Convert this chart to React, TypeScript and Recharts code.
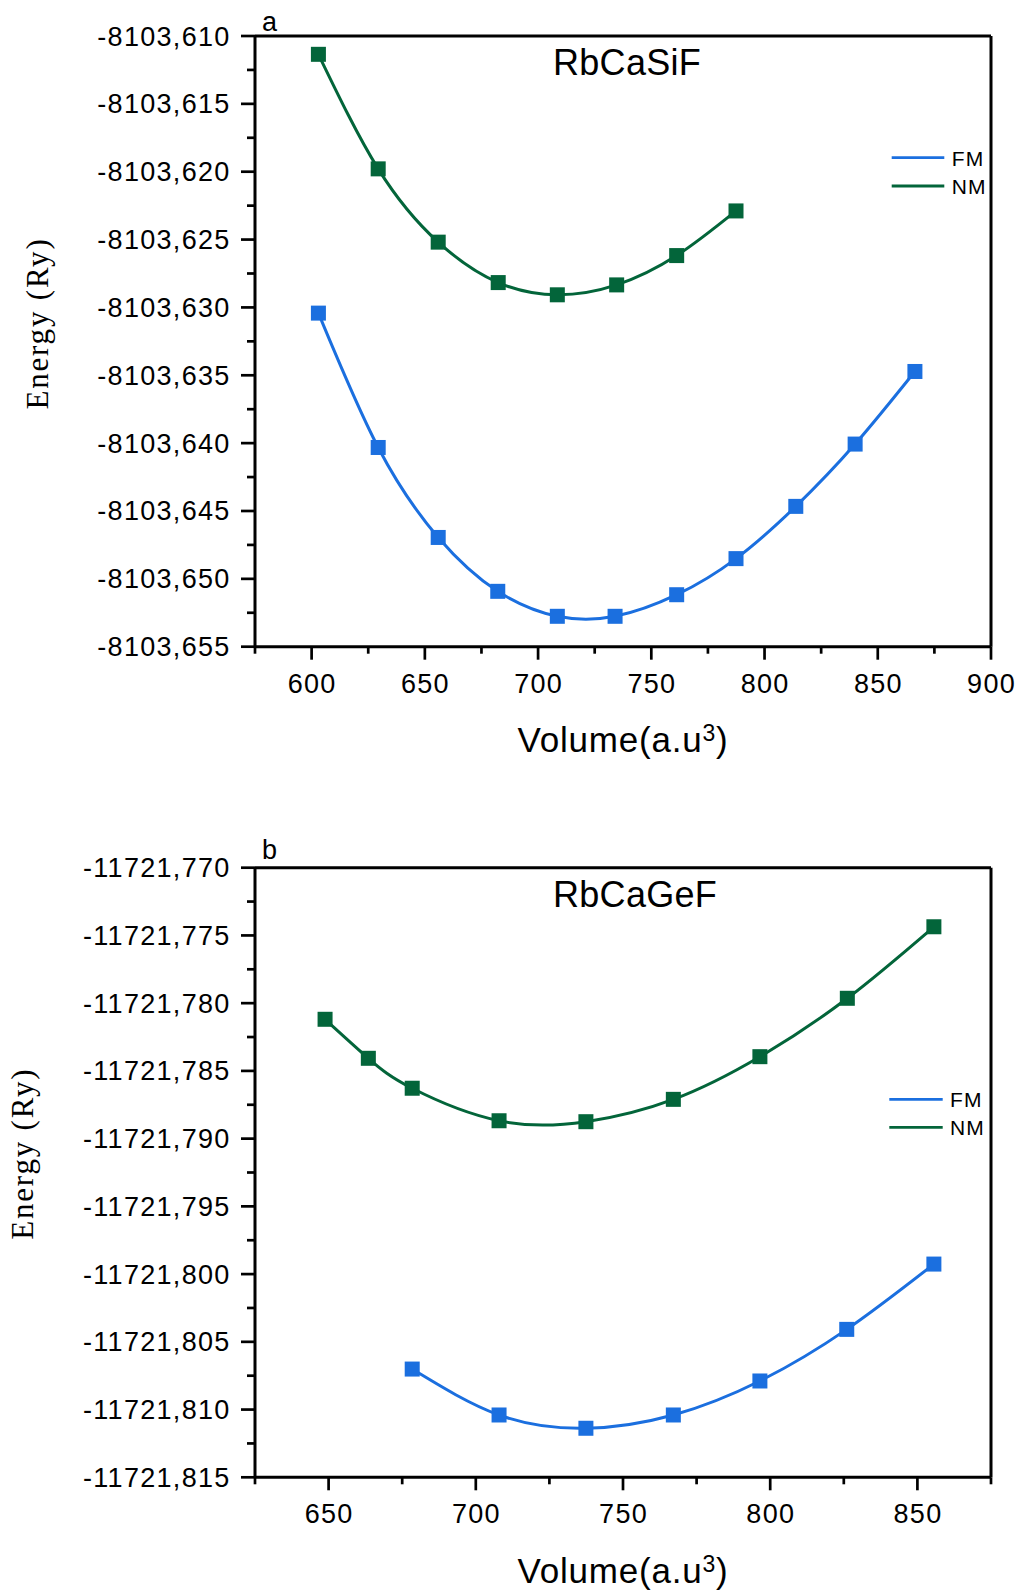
import React from 'react';
import { LineChart, Line, XAxis, YAxis, Legend, Label, ReferenceLine } from 'recharts';

const FONT = '"Liberation Sans", Arial, Helvetica, sans-serif';
const SERIF = '"Liberation Serif", "Times New Roman", Times, serif';
const BLUE = '#1B6FDF';
const GREEN = '#03653A';

// ---- Panel a: RbCaSiF ----
const volA_FM = [603.0, 629.4, 655.9, 682.2, 708.5, 734.0, 761.2, 787.4, 813.8, 840.0, 866.4];
const energyA_FM = [-8103.63042, -8103.64032, -8103.64695, -8103.65092, -8103.65276, -8103.65276, -8103.65117, -8103.64851, -8103.64466, -8103.64007, -8103.63472];
const volA_NM = [603.0, 629.4, 655.9, 682.4, 708.5, 734.7, 761.2, 787.4];
const energyA_NM = [-8103.61135, -8103.61979, -8103.62519, -8103.62817, -8103.62907, -8103.62834, -8103.62618, -8103.62289];

const xTicksA = [575, 600, 625, 650, 675, 700, 725, 750, 775, 800, 825, 850, 875, 900];
const xMajorA = [600, 650, 700, 750, 800, 850, 900];
const yTicksA = [-8103.655, -8103.6525, -8103.65, -8103.6475, -8103.645, -8103.6425, -8103.64, -8103.6375, -8103.635, -8103.6325, -8103.63, -8103.6275, -8103.625, -8103.6225, -8103.62, -8103.6175, -8103.615, -8103.6125, -8103.61];
const yMajorA = [-8103.655, -8103.65, -8103.645, -8103.64, -8103.635, -8103.63, -8103.625, -8103.62, -8103.615, -8103.61];

// ---- Panel b: RbCaGeF ----
const volB_FM = [678.4, 707.9, 737.4, 767.1, 796.5, 826.0, 855.6];
const energyB_FM = [-11721.80701, -11721.8104, -11721.81138, -11721.8104, -11721.80789, -11721.80408, -11721.79926];
const volB_NM = [648.8, 663.5, 678.4, 707.9, 737.4, 767.1, 796.5, 826.2, 855.6];
const energyB_NM = [-11721.78119, -11721.78407, -11721.78628, -11721.78868, -11721.78875, -11721.7871, -11721.78395, -11721.77964, -11721.77436];

const xTicksB = [625, 650, 675, 700, 725, 750, 775, 800, 825, 850, 875];
const xMajorB = [650, 700, 750, 800, 850];
const yTicksB = [-11721.815, -11721.8125, -11721.81, -11721.8075, -11721.805, -11721.8025, -11721.8, -11721.7975, -11721.795, -11721.7925, -11721.79, -11721.7875, -11721.785, -11721.7825, -11721.78, -11721.7775, -11721.775, -11721.7725, -11721.77];
const yMajorB = [-11721.815, -11721.81, -11721.805, -11721.8, -11721.795, -11721.79, -11721.785, -11721.78, -11721.775, -11721.77];

const zip = (xs: number[], ys: number[]) => xs.map((v, i) => ({ v, e: ys[i] }));
const fmt = (n: number) => n.toFixed(3).replace('.', ',');

const sans = (size: number, spacing = 0): React.CSSProperties => ({ fontFamily: FONT, fontSize: size, letterSpacing: spacing });

const makeXTick = (major: number[]) => (props: any) => {
  const { x, y, payload } = props;
  const isMajor = major.includes(payload.value);
  return (
    <g>
      <line x1={x} x2={x} y1={y} y2={y + (isMajor ? 13 : 7)} stroke="#000" strokeWidth={2.7} />
      {isMajor && (
        <text x={x + 0.6} y={y + 46} textAnchor="middle" style={sans(27, 1.3)} fill="#000">
          {payload.value}
        </text>
      )}
    </g>
  );
};

const makeYTick = (major: number[]) => (props: any) => {
  const { x, y, payload } = props;
  const isMajor = major.includes(payload.value);
  return (
    <g>
      <line x1={x - (isMajor ? 14 : 8)} x2={x} y1={y} y2={y} stroke="#000" strokeWidth={2.7} />
      {isMajor && (
        <text x={x - 24.4} y={y + 9.5} textAnchor="end" style={sans(27, 1.3)} fill="#000">
          {fmt(payload.value)}
        </text>
      )}
    </g>
  );
};

const squareDot = (color: string) => (p: any) => (
  <rect key={`d-${p.index}`} x={p.cx - 7.5} y={p.cy - 7.5} width={15} height={15} fill={color} />
);

const legendContent = (lx1: number, lx2: number, tx: number, ly: number[], ty: number[]) => (props: any) => {
  const payload = props.payload || [];
  return (
    <svg width={140} height={70} style={{ display: 'block', overflow: 'visible' }}>
      {payload.map((item: any, i: number) => (
        <g key={item.value}>
          <line x1={lx1} x2={lx2} y1={ly[i]} y2={ly[i]} stroke={item.color} strokeWidth={2.8} />
          <text x={tx} y={ty[i]} style={sans(21, 1.2)} fill="#000">
            {item.value}
          </text>
        </g>
      ))}
    </svg>
  );
};

const volumeLabel = (off: number) => (props: any) => {
  const vb = props.viewBox || {};
  const cx = vb.x + vb.width / 2;
  return (
    <text x={cx} y={vb.y + off} textAnchor="middle" style={sans(35, 0.8)} fill="#000">
      <tspan>Volume(a.u</tspan>
      <tspan style={{ fontSize: 23 }} dy={-11}>3</tspan>
      <tspan dy={11}>)</tspan>
    </text>
  );
};

interface PanelProps {
  top: number;
  height: number;
  marginTop: number;
  xAxisHeight: number;
  xDomain: [number, number];
  yDomain: [number, number];
  xTicks: number[];
  xMajor: number[];
  yTicks: number[];
  yMajor: number[];
  fm: { v: number; e: number }[];
  nm: { v: number; e: number }[];
  title: string;
  titleY: number;
  letter: string;
  letterY: number;
  ylabX: number;
  ylabY: number;
  labelOff: number;
  legend: { left: number; top: number; lx1: number; lx2: number; tx: number; ly: number[]; ty: number[] };
}

function Panel(p: PanelProps) {
  return (
    <div style={{ position: 'absolute', left: 0, top: p.top, width: 1019, height: p.height }}>
      <LineChart width={1019} height={p.height} margin={{ top: p.marginTop, right: 28, left: 55, bottom: 0 }}>
        <XAxis
          type="number"
          dataKey="v"
          domain={p.xDomain}
          ticks={p.xTicks}
          interval={0}
          allowDataOverflow
          height={p.xAxisHeight}
          tickSize={0}
          tickMargin={0}
          tickLine={false}
          axisLine={{ stroke: '#000', strokeWidth: 3 }}
          tick={makeXTick(p.xMajor)}
        >
          <Label content={volumeLabel(p.labelOff)} />
        </XAxis>
        <YAxis
          type="number"
          domain={p.yDomain}
          ticks={p.yTicks}
          interval={0}
          allowDataOverflow
          width={200}
          tickSize={0}
          tickMargin={0}
          tickLine={false}
          axisLine={{ stroke: '#000', strokeWidth: 3 }}
          tick={makeYTick(p.yMajor)}
        />
        <ReferenceLine y={p.yDomain[1]} stroke="#000" strokeWidth={3} />
        <ReferenceLine x={p.xDomain[1]} stroke="#000" strokeWidth={3} />
        <Line
          data={p.fm}
          dataKey="e"
          name="FM"
          type="natural"
          stroke={BLUE}
          strokeWidth={3}
          dot={squareDot(BLUE)}
          activeDot={false}
          isAnimationActive={false}
        />
        <Line
          data={p.nm}
          dataKey="e"
          name="NM"
          type="natural"
          stroke={GREEN}
          strokeWidth={3}
          dot={squareDot(GREEN)}
          activeDot={false}
          isAnimationActive={false}
        />
        <Legend
          layout="horizontal"
          verticalAlign="middle"
          align="center"
          wrapperStyle={{ position: 'absolute', left: p.legend.left, top: p.legend.top, width: 140, height: 70 }}
          content={legendContent(p.legend.lx1, p.legend.lx2, p.legend.tx, p.legend.ly, p.legend.ty)}
        />
        <text x={553} y={p.titleY} style={sans(36, 0.3)} fill="#000">
          {p.title}
        </text>
        <text x={262} y={p.letterY} style={sans(27)} fill="#000">
          {p.letter}
        </text>
        <text
          x={p.ylabX}
          y={p.ylabY}
          transform={`rotate(-90 ${p.ylabX} ${p.ylabY})`}
          textAnchor="middle"
          style={{ fontFamily: SERIF, fontSize: 31, letterSpacing: 1.8 }}
          fill="#000"
        >
          Energy (Ry)
        </text>
      </LineChart>
    </div>
  );
}

export default function App() {
  return (
    <div style={{ position: 'absolute', left: 0, top: 0, width: 1019, height: 1591, background: '#fff' }}>
      <Panel
        top={0}
        height={770}
        marginTop={36}
        xAxisHeight={123.3}
        xDomain={[575, 900]}
        yDomain={[-8103.655, -8103.61]}
        xTicks={xTicksA}
        xMajor={xMajorA}
        yTicks={yTicksA}
        yMajor={yMajorA}
        fm={zip(volA_FM, energyA_FM)}
        nm={zip(volA_NM, energyA_NM)}
        title="RbCaSiF"
        titleY={75}
        letter="a"
        letterY={31}
        ylabX={47.7}
        ylabY={323.5}
        labelOff={105}
        legend={{ left: 880, top: 140, lx1: 11.7, lx2: 64.3, tx: 71.7, ly: [17.7, 46], ty: [26, 54.3] }}
      />
      <Panel
        top={800}
        height={791}
        marginTop={67.7}
        xAxisHeight={113.7}
        xDomain={[625, 875]}
        yDomain={[-11721.815, -11721.77]}
        xTicks={xTicksB}
        xMajor={xMajorB}
        yTicks={yTicksB}
        yMajor={yMajorB}
        fm={zip(volB_FM, energyB_FM)}
        nm={zip(volB_NM, energyB_NM)}
        title="RbCaGeF"
        titleY={106.7}
        letter="b"
        letterY={59}
        ylabX={32.7}
        ylabY={353.7}
        labelOff={106}
        legend={{ left: 880, top: 280, lx1: 9.3, lx2: 62.7, tx: 70, ly: [19.3, 47.3], ty: [26.7, 55] }}
      />
    </div>
  );
}
